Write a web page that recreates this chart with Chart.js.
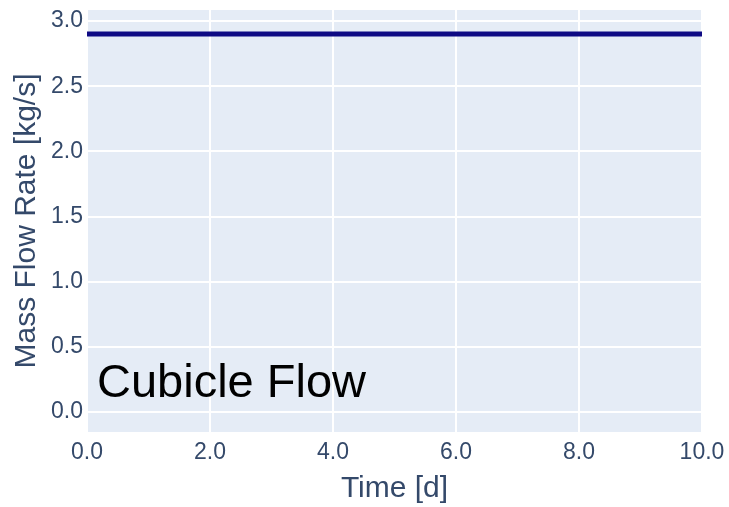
<!DOCTYPE html>
<html>
<head>
<meta charset="utf-8">
<script src="https://cdn.jsdelivr.net/npm/chart.js@4/dist/chart.umd.min.js"></script>
<style>
html,body{margin:0;padding:0;background:#fff;}
#wrap{width:729px;height:507px;position:relative;}
</style>
</head>
<body>
<div id="wrap"><canvas id="c" width="729" height="507"></canvas></div>
<script>
const timeDays = [0, 2, 4, 6, 8, 10];
const massFlow = [2.9, 2.9, 2.9, 2.9, 2.9, 2.9];
const xTicks = [0, 2, 4, 6, 8, 10];
const yTicks = [0, 0.5, 1.0, 1.5, 2.0, 2.5, 3.0];
const annotationText = 'Cubicle Flow';
const xTitle = 'Time [d]';
const yTitle = 'Mass Flow Rate [kg/s]';

const FONT = "'Liberation Sans', Arial, sans-serif";
const TXT = '#34496a';

const bgPlugin = {
  id: 'plotBg',
  beforeDraw(chart) {
    const {ctx, chartArea: a} = chart;
    ctx.save();
    ctx.fillStyle = '#E5ECF6';
    ctx.fillRect(a.left, a.top, a.right - a.left, a.bottom - a.top);
    ctx.restore();
  },
  afterDraw(chart) {
    const {ctx, chartArea: a} = chart;
    ctx.save();
    ctx.fillStyle = '#000';
    ctx.font = '47px ' + FONT;
    ctx.textBaseline = 'alphabetic';
    ctx.textAlign = 'left';
    ctx.fillText(annotationText, a.left + 10, 397);
    ctx.restore();
  }
};

new Chart(document.getElementById('c'), {
  type: 'line',
  data: {
    datasets: [{
      data: timeDays.map((t, i) => ({x: t, y: massFlow[i]})),
      borderColor: 'rgb(14,10,132)',
      borderWidth: 5,
      pointRadius: 0,
      fill: false,
      tension: 0
    }]
  },
  options: {
    responsive: false,
    animation: false,
    devicePixelRatio: 1,
    layout: {padding: {top: 10, right: 27, left: 0, bottom: 0}},
    plugins: {legend: {display: false}, tooltip: {enabled: false}},
    scales: {
      x: {
        type: 'linear',
        min: 0, max: 10,
        afterBuildTicks: s => { s.ticks = xTicks.map(v => ({value: v})); },
        afterFit: s => { s.height = 75; s.paddingLeft = 0; s.paddingRight = 0; },
        grid: {color: '#ffffff', lineWidth: 2, drawTicks: false},
        border: {display: false},
        ticks: {
          color: TXT, font: {family: FONT, size: 23}, padding: 7,
          maxRotation: 0, autoSkip: false,
          callback: v => Number(v).toFixed(1)
        },
        title: {display: true, text: xTitle, color: TXT, font: {family: FONT, size: 30}, padding: {top: 0, bottom: 0}}
      },
      y: {
        type: 'linear',
        min: -0.153, max: 3.085,
        afterBuildTicks: s => { s.ticks = yTicks.map(v => ({value: v})); },
        afterFit: s => { s.width = 87; s.paddingTop = 0; s.paddingBottom = 0; },
        grid: {color: '#ffffff', lineWidth: 2, drawTicks: false},
        border: {display: false},
        ticks: {
          color: TXT, font: {family: FONT, size: 23}, padding: 4,
          autoSkip: false,
          callback: v => Number(v).toFixed(1)
        },
        title: {display: true, text: yTitle, color: TXT, font: {family: FONT, size: 30}, padding: {top: 9, bottom: 0}}
      }
    }
  },
  plugins: [bgPlugin]
});
</script>
</body>
</html>
